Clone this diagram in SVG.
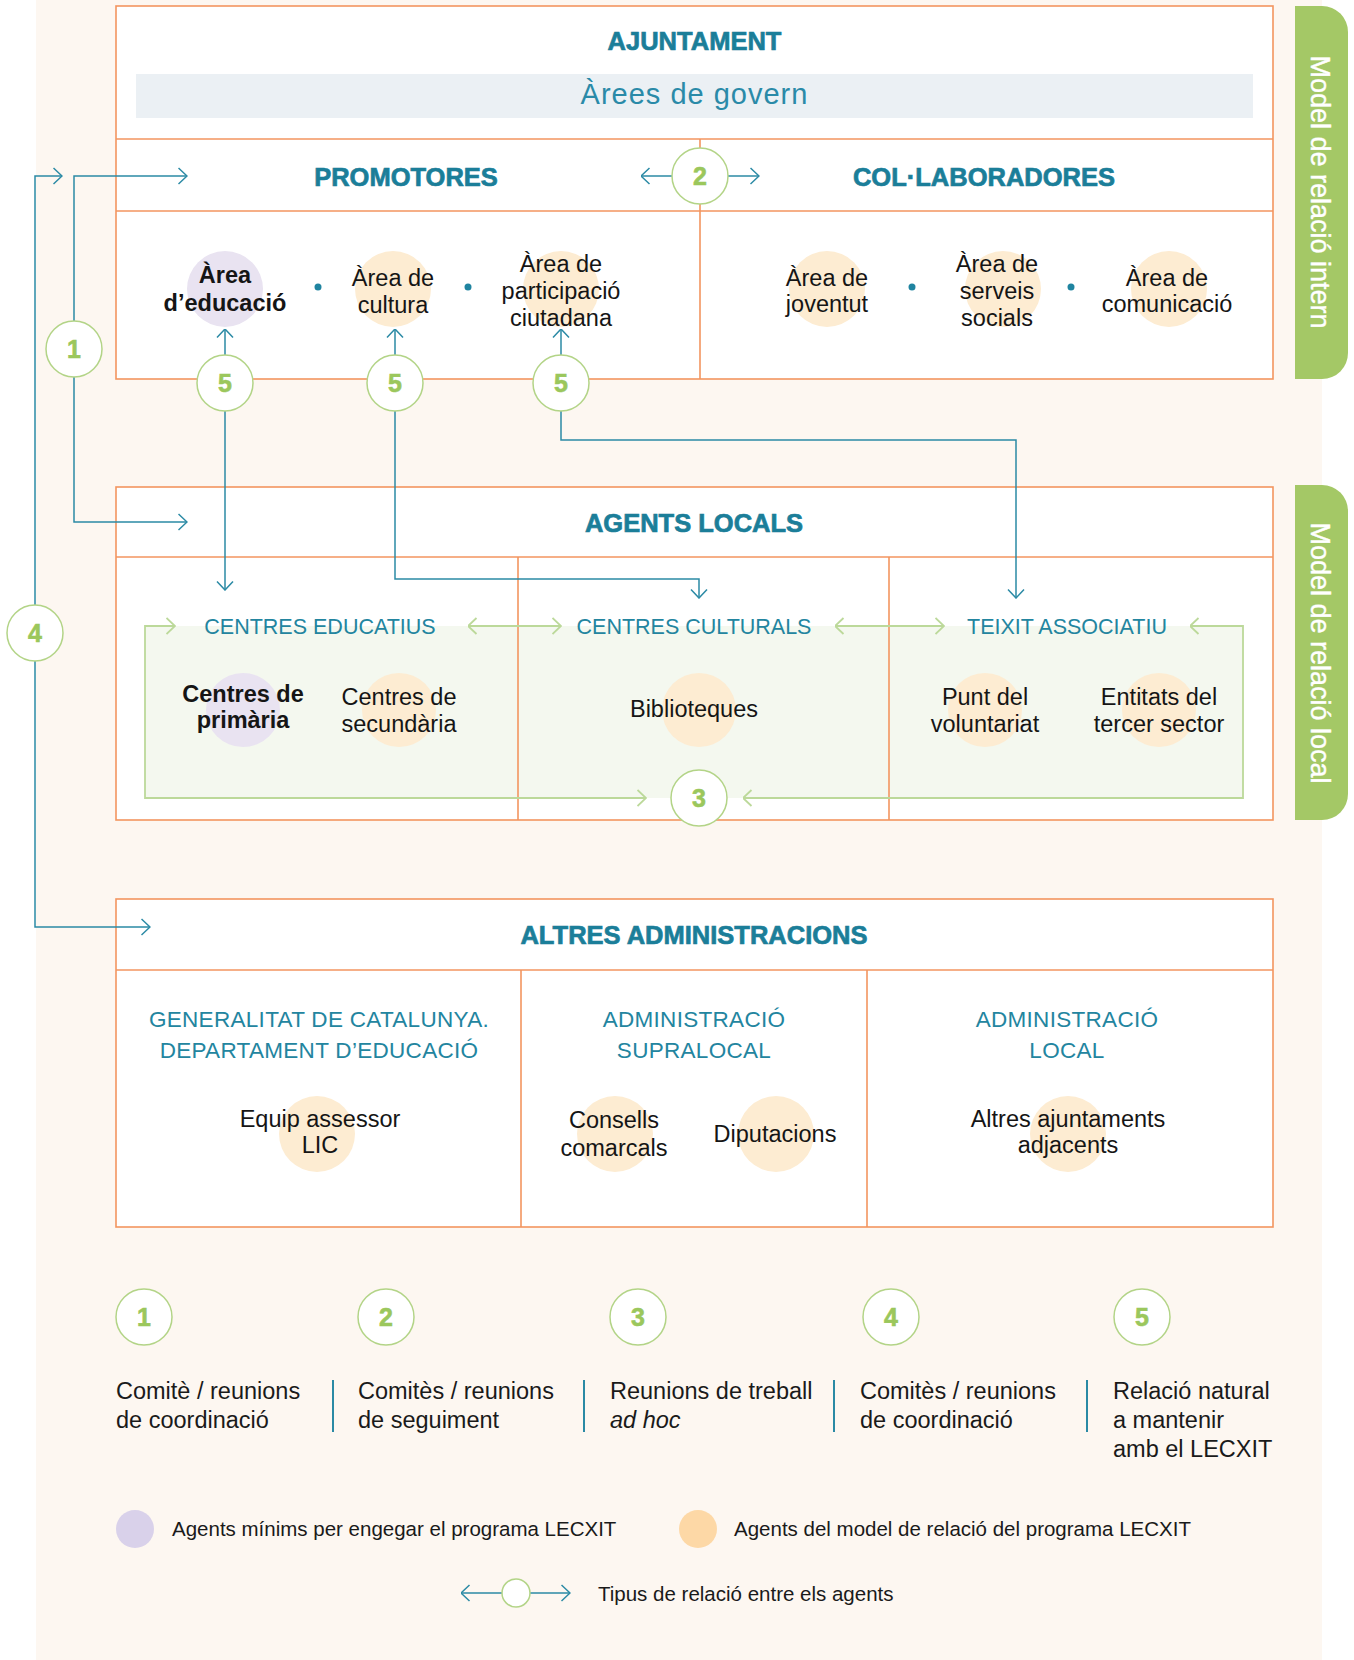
<svg xmlns="http://www.w3.org/2000/svg" width="1354" height="1660" viewBox="0 0 1354 1660">
<defs>
<style>
.box{fill:#fff;stroke:#f3955f;stroke-width:1.6}
.dv{stroke:#f3955f;stroke-width:1.6;fill:none}
.f{font-family:"Liberation Sans",Arial,sans-serif}
.h{font-weight:bold;font-size:25.5px;fill:#1b7e99;stroke:#1b7e99;stroke-width:0.7px;text-anchor:middle}
.sub{font-size:21.5px;fill:#23859f;text-anchor:middle}
.sub2{font-size:22.5px;fill:#23859f;text-anchor:middle;letter-spacing:0.3px}
.t{font-size:23.5px;fill:#151515;text-anchor:middle}
.tb{font-weight:bold}
.pu{fill:#e9e3f1}
.or{fill:#fdecd2}
.num{fill:#fff;stroke:#b3d487;stroke-width:1.5}
.n{font-weight:bold;font-size:25px;fill:#9bc75c;stroke:#9bc75c;stroke-width:0.6px;text-anchor:middle}
.c{fill:none;stroke:#2b8aa5;stroke-width:1.5}
.g{fill:none;stroke:#bcd99a;stroke-width:1.8}
.lg{font-size:23.5px;fill:#1a1a1a}
.ls{font-size:20.5px;fill:#1a1a1a}
.tab{fill:#a4c866}
.tabt{font-size:27px;fill:#fff;stroke:#fff;stroke-width:0.4px;text-anchor:middle}
.dot{fill:#1f84a0}
.sep{stroke:#2b8aa5;stroke-width:2}
</style>
<marker id="a" viewBox="0 0 10 18" refX="9.5" refY="9" markerWidth="10" markerHeight="18" markerUnits="userSpaceOnUse" orient="auto-start-reverse">
<path d="M1,1 L9.5,9 L1,17" fill="none" stroke="#2b8aa5" stroke-width="1.5"/>
</marker>
<marker id="ag" viewBox="0 0 10 18" refX="9.5" refY="9" markerWidth="10" markerHeight="18" markerUnits="userSpaceOnUse" orient="auto-start-reverse">
<path d="M1,1 L9.5,9 L1,17" fill="none" stroke="#bcd99a" stroke-width="1.8"/>
</marker>
</defs>

<rect x="36" y="0" width="1286" height="1660" fill="#fdf7f1"/>

<g id="tab-intern">
<path class="tab" d="M1295,6 L1322,6 A26,26 0 0 1 1348,32 L1348,353 A26,26 0 0 1 1322,379 L1295,379 Z"/>
<text class="f tabt" transform="translate(1321,192) rotate(90)" x="0" y="10">Model de relació intern</text>
</g>
<g id="tab-local">
<path class="tab" d="M1295,485 L1322,485 A26,26 0 0 1 1348,511 L1348,794 A26,26 0 0 1 1322,820 L1295,820 Z"/>
<text class="f tabt" transform="translate(1321,653) rotate(90)" x="0" y="10">Model de relació local</text>
</g>

<g id="ajuntament">
<rect class="box" x="116" y="6" width="1157" height="373"/>
<line class="dv" x1="116" y1="139" x2="1273" y2="139"/>
<line class="dv" x1="116" y1="211" x2="1273" y2="211"/>
<line class="dv" x1="700" y1="139" x2="700" y2="379"/>
<text class="f h" x="694.5" y="50">AJUNTAMENT</text>
<rect x="136" y="74" width="1117" height="44" fill="#ebf0f4"/>
<text class="f" x="694.5" y="104" font-size="29" fill="#2a8aa8" text-anchor="middle" letter-spacing="1">Àrees de govern</text>
</g>

<g id="promotores">
<text class="f h" x="406" y="186">PROMOTORES</text>
</g>
<g id="collaboradores">
<text class="f h" x="984" y="186">COL·LABORADORES</text>
</g>

<g id="area-educacio">
<circle class="pu" cx="225" cy="289" r="38"/>
<text class="f t tb" x="225" y="283">Àrea</text>
<text class="f t tb" x="225" y="311">d’educació</text>
</g>
<circle class="dot" cx="318" cy="287" r="3.5"/>
<g id="area-cultura">
<circle class="or" cx="393" cy="289" r="38"/>
<text class="f t" x="393" y="286">Àrea de</text>
<text class="f t" x="393" y="313">cultura</text>
</g>
<circle class="dot" cx="468" cy="287" r="3.5"/>
<g id="area-participacio">
<circle class="or" cx="561" cy="289" r="38"/>
<text class="f t" x="561" y="272">Àrea de</text>
<text class="f t" x="561" y="299">participació</text>
<text class="f t" x="561" y="326">ciutadana</text>
</g>
<g id="area-joventut">
<circle class="or" cx="827" cy="289" r="38"/>
<text class="f t" x="827" y="286">Àrea de</text>
<text class="f t" x="827" y="312">joventut</text>
</g>
<circle class="dot" cx="912" cy="287" r="3.5"/>
<g id="area-serveis">
<circle class="or" cx="1003" cy="289" r="38"/>
<text class="f t" x="997" y="272">Àrea de</text>
<text class="f t" x="997" y="299">serveis</text>
<text class="f t" x="997" y="326">socials</text>
</g>
<circle class="dot" cx="1071" cy="287" r="3.5"/>
<g id="area-comunicacio">
<circle class="or" cx="1169" cy="289" r="38"/>
<text class="f t" x="1167" y="286">Àrea de</text>
<text class="f t" x="1167" y="312">comunicació</text>
</g>

<g id="agents-locals">
<rect class="box" x="116" y="487" width="1157" height="333"/>
<rect x="145" y="626" width="1098" height="172" fill="#f4f8ef"/>
<line class="dv" x1="116" y1="557" x2="1273" y2="557"/>
<line class="dv" x1="518" y1="557" x2="518" y2="820"/>
<line class="dv" x1="889" y1="557" x2="889" y2="820"/>
<text class="f h" x="694" y="532">AGENTS LOCALS</text>
</g>

<g id="centres-educatius">
<text class="f sub" x="320" y="634">CENTRES EDUCATIUS</text>
<circle class="pu" cx="243" cy="710" r="37"/>
<text class="f t tb" x="243" y="702">Centres de</text>
<text class="f t tb" x="243" y="728">primària</text>
<circle class="or" cx="399" cy="710" r="37"/>
<text class="f t" x="399" y="705">Centres de</text>
<text class="f t" x="399" y="732">secundària</text>
</g>
<g id="centres-culturals">
<text class="f sub" x="694" y="634">CENTRES CULTURALS</text>
<circle class="or" cx="699" cy="710" r="37"/>
<text class="f t" x="694" y="717">Biblioteques</text>
</g>
<g id="teixit-associatiu">
<text class="f sub" x="1067" y="634">TEIXIT ASSOCIATIU</text>
<circle class="or" cx="985" cy="710" r="37"/>
<text class="f t" x="985" y="705">Punt del</text>
<text class="f t" x="985" y="732">voluntariat</text>
<circle class="or" cx="1159" cy="710" r="37"/>
<text class="f t" x="1159" y="705">Entitats del</text>
<text class="f t" x="1159" y="732">tercer sector</text>
</g>

<g id="altres-administracions">
<rect class="box" x="116" y="899" width="1157" height="328"/>
<line class="dv" x1="116" y1="970" x2="1273" y2="970"/>
<line class="dv" x1="521" y1="970" x2="521" y2="1227"/>
<line class="dv" x1="867" y1="970" x2="867" y2="1227"/>
<text class="f h" x="694" y="944">ALTRES ADMINISTRACIONS</text>
</g>
<g id="generalitat">
<text class="f sub2" x="319" y="1027">GENERALITAT DE CATALUNYA.</text>
<text class="f sub2" x="319" y="1058">DEPARTAMENT D’EDUCACIÓ</text>
<circle class="or" cx="317" cy="1134" r="38"/>
<text class="f t" x="320" y="1127">Equip assessor</text>
<text class="f t" x="320" y="1153">LIC</text>
</g>
<g id="supralocal">
<text class="f sub2" x="694" y="1027">ADMINISTRACIÓ</text>
<text class="f sub2" x="694" y="1058">SUPRALOCAL</text>
<circle class="or" cx="615" cy="1134" r="38"/>
<text class="f t" x="614" y="1128">Consells</text>
<text class="f t" x="614" y="1156">comarcals</text>
<circle class="or" cx="776" cy="1134" r="38"/>
<text class="f t" x="775" y="1142">Diputacions</text>
</g>
<g id="local">
<text class="f sub2" x="1067" y="1027">ADMINISTRACIÓ</text>
<text class="f sub2" x="1067" y="1058">LOCAL</text>
<circle class="or" cx="1068" cy="1134" r="38"/>
<text class="f t" x="1068" y="1127">Altres ajuntaments</text>
<text class="f t" x="1068" y="1153">adjacents</text>
</g>

<g id="connectors">
<path class="c" d="M62,176 L35,176 L35,927 L150,927" marker-start="url(#a)" marker-end="url(#a)"/>
<path class="c" d="M187,176 L74,176 L74,522 L187,522" marker-start="url(#a)" marker-end="url(#a)"/>
<path class="c" d="M672,176 L641,176" marker-end="url(#a)"/>
<path class="c" d="M728,176 L759,176" marker-end="url(#a)"/>
<path class="c" d="M225,355 L225,329" marker-end="url(#a)"/>
<path class="c" d="M395,355 L395,329" marker-end="url(#a)"/>
<path class="c" d="M561,355 L561,329" marker-end="url(#a)"/>
<path class="c" d="M225,411 L225,590" marker-end="url(#a)"/>
<path class="c" d="M395,411 L395,579 L699,579 L699,598" marker-end="url(#a)"/>
<path class="c" d="M561,411 L561,440 L1016,440 L1016,598" marker-end="url(#a)"/>
<path class="g" d="M175,626 L145,626 L145,798 L646,798" marker-start="url(#ag)" marker-end="url(#ag)"/>
<path class="g" d="M1190,626 L1243,626 L1243,798 L743,798" marker-start="url(#ag)" marker-end="url(#ag)"/>
<path class="g" d="M468,626 L561,626" marker-start="url(#ag)" marker-end="url(#ag)"/>
<path class="g" d="M835,626 L944,626" marker-start="url(#ag)" marker-end="url(#ag)"/>
</g>

<g id="rel-1"><circle class="num" cx="74" cy="349" r="28"/><text class="f n" x="74" y="358">1</text></g>
<g id="rel-2"><circle class="num" cx="700" cy="176" r="28"/><text class="f n" x="700" y="185">2</text></g>
<g id="rel-4"><circle class="num" cx="35" cy="633" r="28"/><text class="f n" x="35" y="642">4</text></g>
<g id="rel-5a"><circle class="num" cx="225" cy="383" r="28"/><text class="f n" x="225" y="392">5</text></g>
<g id="rel-5b"><circle class="num" cx="395" cy="383" r="28"/><text class="f n" x="395" y="392">5</text></g>
<g id="rel-5c"><circle class="num" cx="561" cy="383" r="28"/><text class="f n" x="561" y="392">5</text></g>
<g id="rel-3"><circle class="num" cx="699" cy="798" r="28"/><text class="f n" x="699" y="807">3</text></g>

<g id="legend-numbers">
<circle class="num" cx="144" cy="1317" r="28"/><text class="f n" x="144" y="1326">1</text>
<circle class="num" cx="386" cy="1317" r="28"/><text class="f n" x="386" y="1326">2</text>
<circle class="num" cx="638" cy="1317" r="28"/><text class="f n" x="638" y="1326">3</text>
<circle class="num" cx="891" cy="1317" r="28"/><text class="f n" x="891" y="1326">4</text>
<circle class="num" cx="1142" cy="1317" r="28"/><text class="f n" x="1142" y="1326">5</text>
<text class="f lg" x="116" y="1399">Comitè / reunions</text>
<text class="f lg" x="116" y="1428">de coordinació</text>
<line class="sep" x1="333" y1="1380" x2="333" y2="1432"/>
<text class="f lg" x="358" y="1399">Comitès / reunions</text>
<text class="f lg" x="358" y="1428">de seguiment</text>
<line class="sep" x1="584" y1="1380" x2="584" y2="1432"/>
<text class="f lg" x="610" y="1399">Reunions de treball</text>
<text class="f lg" x="610" y="1428" font-style="italic">ad hoc</text>
<line class="sep" x1="834" y1="1380" x2="834" y2="1432"/>
<text class="f lg" x="860" y="1399">Comitès / reunions</text>
<text class="f lg" x="860" y="1428">de coordinació</text>
<line class="sep" x1="1087" y1="1380" x2="1087" y2="1432"/>
<text class="f lg" x="1113" y="1399">Relació natural</text>
<text class="f lg" x="1113" y="1428">a mantenir</text>
<text class="f lg" x="1113" y="1457">amb el LECXIT</text>
</g>

<g id="legend-colours">
<circle cx="135" cy="1529" r="19" fill="#d9d1ea"/>
<text class="f ls" x="172" y="1536">Agents mínims per engegar el programa LECXIT</text>
<circle cx="698" cy="1529" r="19" fill="#fdd8a6"/>
<text class="f ls" x="734" y="1536">Agents del model de relació del programa LECXIT</text>
</g>

<g id="legend-relation">
<path class="c" d="M461,1593 L570,1593" marker-start="url(#a)" marker-end="url(#a)"/>
<circle class="num" cx="516" cy="1593" r="14"/>
<text class="f ls" x="598" y="1601">Tipus de relació entre els agents</text>
</g>
</svg>
